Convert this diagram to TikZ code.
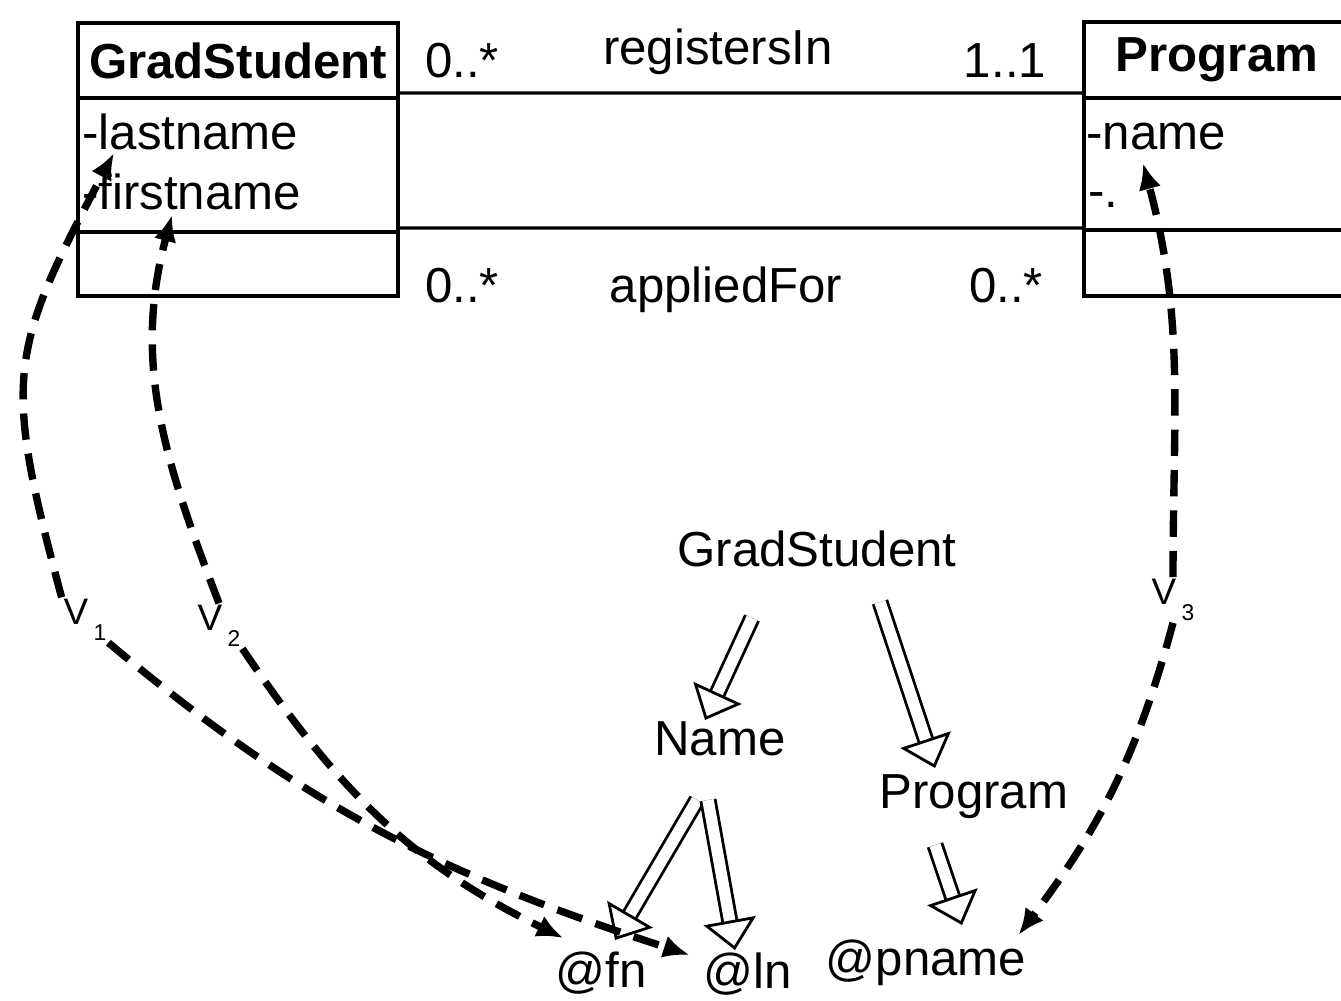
\documentclass[tikz,border=0pt]{standalone}
\usepackage{fontspec}
\setmainfont{Liberation Sans}
\usetikzlibrary{arrows.meta,positioning,calc}

\newcommand{\vname}[1]{V\kern3pt\raisebox{-9pt}{\fontsize{13pt}{13pt}\selectfont #1}}

\tikzset{
  txt/.style={font=\fontsize{28pt}{34pt}\selectfont, inner sep=0pt},
  head/.style={draw, line width=2.2pt, inner sep=0pt, outer sep=0pt, font=\fontsize{28pt}{34pt}\selectfont\bfseries},
  comp/.style={draw, line width=2.2pt, inner sep=0pt, outer sep=0pt},
  assoc/.style={line width=1.8pt},
  gen/.style={double, double distance=6.5pt, line width=1.6pt, -{Triangle[open,length=17pt,width=30pt]}},
  map/.style={line width=4.2pt, dash pattern=on 15pt off 8pt, -{Latex[length=15pt,width=13pt]}},
  vlab/.style={font=\fontsize{21pt}{21pt}\selectfont, inner sep=1pt},
}

\begin{document}
\begin{tikzpicture}[x=0.02cm,y=0.02cm]
  \clip (0,0) rectangle (1341,-1000);

  % class GradStudent
  \node[head,anchor=north west,minimum width=6.4cm,minimum height=1.5cm] (gsHead) at (78,-23) {GradStudent};
  \node[comp,below=0pt of gsHead,minimum width=6.4cm,minimum height=2.68cm] (gsAttr) {};
  \node[comp,below=0pt of gsAttr,minimum width=6.4cm,minimum height=1.28cm] (gsOps) {};
  \node[txt,anchor=base west] (lastname) at (82,-150) {-lastname};
  \node[txt,anchor=base west] (firstname) at (82,-210) {-firstname};

  % class Program
  \node[head,anchor=north west,minimum width=5.32cm,minimum height=1.52cm] (pgHead) at (1084,-22) {Program};
  \node[comp,below=0pt of pgHead,minimum width=5.32cm,minimum height=2.64cm] (pgAttr) {};
  \node[comp,below=0pt of pgAttr,minimum width=5.32cm,minimum height=1.32cm] (pgOps) {};
  \node[txt,anchor=base west] (name) at (1086,-150) {-name};
  \node[txt,anchor=base west] (dots) at (1088,-208) {-.};

  % associations
  \draw[assoc] ($(gsHead.south east)+(0,5)$) -- ($(pgHead.south west)+(0,5)$);
  \draw[assoc] ($(gsAttr.south east)+(0,4)$) -- ($(pgAttr.south west)+(0,2)$);
  \node[txt,anchor=base] (mulRegL) at (462,-78) {0..*};
  \node[txt,anchor=base] (regIn) at (718,-65) {registersIn};
  \node[txt,anchor=base] (mulRegR) at (1005,-78) {1..1};
  \node[txt,anchor=base] (mulAppL) at (462,-302) {0..*};
  \node[txt,anchor=base] (appFor) at (726,-302) {appliedFor};
  \node[txt,anchor=base] (mulAppR) at (1006,-302) {0..*};

  % XML tree
  \node[txt,anchor=base] (tGrad) at (817,-566) {GradStudent};
  \node[txt,anchor=base] (tName) at (720,-755) {Name};
  \node[txt,anchor=base] (tProg) at (974,-808) {Program};
  \node[txt,anchor=base] (tFn) at (601,-987) {@fn};
  \node[txt,anchor=base] (tLn) at (748,-988) {@ln};
  \node[txt,anchor=base] (tPname) at (926,-975) {@pname};

  \draw[gen] ($(tGrad.base)+(-65,-52)$) -- ($(tName.base)+(-15,35)$);
  \draw[gen] ($(tGrad.base)+(63,-36)$) -- ($(tProg.base)+(-39,40)$);
  \draw[gen] ($(tName.base)+(-23,-45)$) -- ($(tFn.base)+(14,47)$);
  \draw[gen] ($(tName.base)+(-12,-45)$) -- ($(tLn.base)+(-13,38)$);
  \draw[gen] ($(tProg.base)+(-39,-37)$) -- ($(tPname.base)+(36,50)$);

  % mappings
  \node[vlab] (v1) at (85,-620) {\vname{1}};
  \node[vlab] (v2) at (219,-626) {\vname{2}};
  \node[vlab] (v3) at (1173,-600) {\vname{3}};

  \draw[map] (v1.north west) to[out=105,in=242,looseness=1.3] ($(lastname.base west)+(32,-3)$);
  \draw[map] (v1.south east) to[out=-40,in=162] ($(tLn.base west)+(-14,33)$);
  \draw[map] (v2.north) to[out=111,in=-105] ($(firstname.base west)+(90,-5)$);
  \draw[map] (v2.south east) to[out=-56,in=154] ($(tFn.base west)+(8,49)$);
  \draw[map] (v3.north) to[out=90,in=285] ($(name.base west)+(57,-13)$);
  \draw[map] (v3.south) to[out=-105,in=53] ($(tPname.base east)+(-8,40)$);
\end{tikzpicture}
\end{document}
